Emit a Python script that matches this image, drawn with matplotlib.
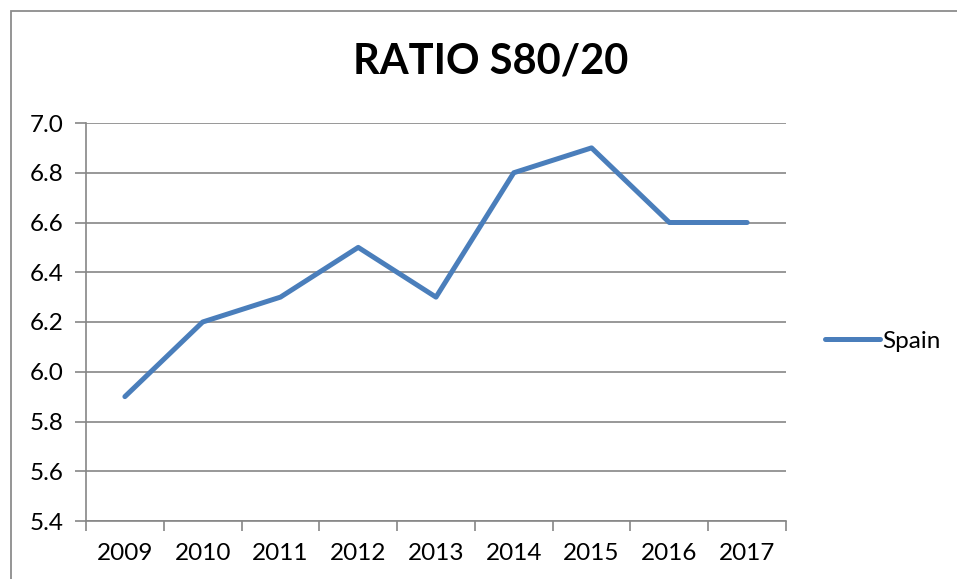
import matplotlib
matplotlib.use("Agg")
import matplotlib.pyplot as plt
from matplotlib.patches import Rectangle
from matplotlib.ticker import FixedLocator, NullFormatter

years = ["2009", "2010", "2011", "2012", "2013", "2014", "2015", "2016", "2017"]
spain = [5.9, 6.2, 6.3, 6.5, 6.3, 6.8, 6.9, 6.6, 6.6]
y_ticks = [5.4, 5.6, 5.8, 6.0, 6.2, 6.4, 6.6, 6.8, 7.0]

plt.rcParams["font.family"] = ["Lato", "DejaVu Sans"]

W, H = 957, 579
fig = plt.figure(figsize=(W / 100, H / 100), dpi=100)
ax = fig.add_axes([86 / W, 1 - 521 / H, 700 / W, 398 / H])

grid_c = "#868686"
line_c = "#4A7EBB"

x = list(range(len(years)))
ax.plot(x, spain, color=line_c, lw=3.6, solid_capstyle="round",
        solid_joinstyle="round", label="Spain", zorder=3)

ax.set_xlim(-0.5, len(years) - 0.5)
ax.set_ylim(5.4, 7.0)
ax.set_yticks(y_ticks)
ax.set_yticklabels([f"{v:.1f}" for v in y_ticks])
ax.set_xticks(x)
ax.set_xticklabels(years)
ax.xaxis.set_minor_locator(FixedLocator([i - 0.5 for i in range(len(years) + 1)]))
ax.xaxis.set_minor_formatter(NullFormatter())

ax.yaxis.grid(True, color=grid_c, lw=1.2)
ax.set_axisbelow(True)
for s in ("top", "right"):
    ax.spines[s].set_visible(False)
for s in ("left", "bottom"):
    ax.spines[s].set_color(grid_c)
    ax.spines[s].set_linewidth(1.2)

ax.tick_params(axis="x", which="major", length=0, pad=16, labelsize=17.5)
ax.tick_params(axis="x", which="minor", length=7, color=grid_c, width=1.2)
ax.tick_params(axis="y", length=8, color=grid_c, width=1.2, pad=8, labelsize=17.5)

fig.text(491 / W, 1 - 62 / H, "RATIO S80/20", ha="center", va="center",
         fontsize=30, fontweight="bold")

fig.legend(loc="center left", bbox_to_anchor=(825 / W, 1 - 341 / H),
           frameon=False, fontsize=17.5, handlelength=2.25, handletextpad=0.12,
           borderpad=0, borderaxespad=0)

fig.patches.append(Rectangle((10.5 / W, -0.1), 2, 1.1 - 11.5 / H,
                             transform=fig.transFigure, fill=False,
                             edgecolor="#8c8c8c", lw=1.3, clip_on=False))

fig.savefig("out.png", dpi=100)
